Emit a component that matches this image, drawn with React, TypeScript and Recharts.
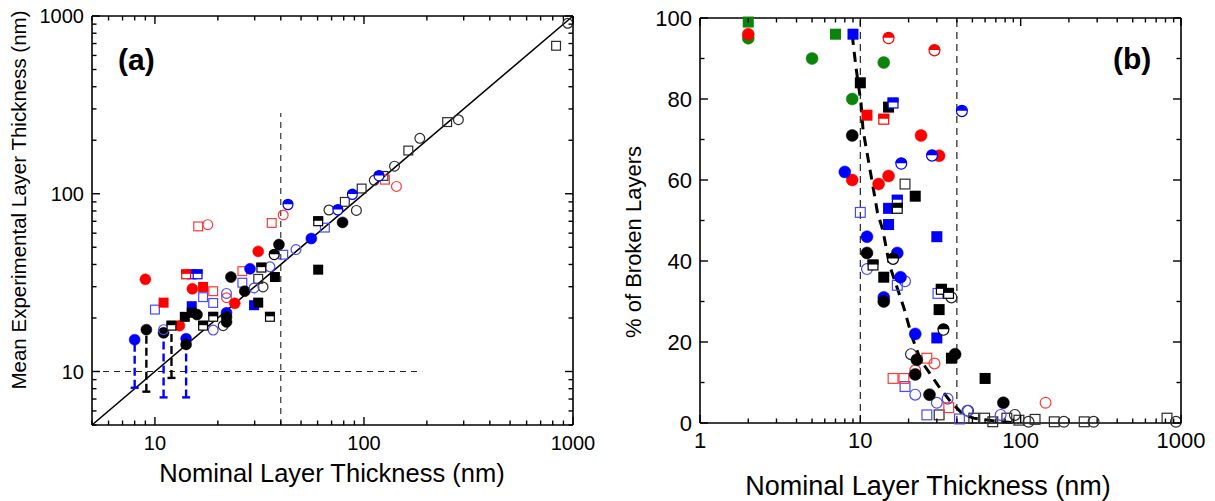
import React from 'react';
import { ScatterChart, Scatter, XAxis, YAxis, ReferenceLine, ErrorBar } from 'recharts';

type P = [number, number];
type E = [number, number, number];

// ---------- Panel (a): mean experimental vs nominal thickness ----------
const aBlackFilledCircle: P[] = [[9.1, 17.2], [11, 16.5], [14.1, 14.2], [15.9, 20.9], [22, 20.3], [22, 19], [23.1, 34], [26.9, 28.3], [39.2, 51.8], [79, 69]];
const aBlackHalfCircle: P[] = [[37.2, 45.4]];
const aBlackFilledSquare: P[] = [[13.9, 20.3], [15, 21.4], [31.2, 24.4], [37.5, 34], [60.4, 37.4]];
const aBlackHalfSquare: P[] = [[12, 18.1], [17, 18.1], [19, 20.3], [32.3, 38.4], [35.5, 20.3], [60.4, 70]];
const aBlackOpenSquare: P[] = [[31.2, 33.2], [81, 90], [97.5, 107], [124, 126], [163, 175], [250, 253], [830, 680]];
const aBlackOpenCircle: P[] = [[21.2, 18.1], [32.9, 29.9], [68, 81], [92, 80.6], [112, 119], [140, 143], [185, 205], [283, 261], [944, 910]];
const aBlueFilledCircle: P[] = [[8, 15.1], [14.1, 15.3], [22, 21.4], [28.5, 37.8], [56, 56]];
const aBlueHalfCircle: P[] = [[43.3, 86.7], [75, 81], [88, 99], [118, 126]];
const aBlueFilledSquare: P[] = [[15, 23.3], [29.8, 23.6]];
const aBlueHalfSquare: P[] = [[15, 35.2], [16, 35.2]];
const aBlueOpenSquare: P[] = [[10, 22.3], [17, 26.2], [19, 24.3], [26.2, 31.6], [41.1, 45.4], [65, 64.5]];
const aBlueOpenCircle: P[] = [[11, 17.2], [19, 17.1], [22, 27.5], [29.8, 29.5], [35.5, 38.8], [47.3, 48.5]];
const aRedFilledCircle: P[] = [[9, 33], [13.1, 18.1], [15.1, 29.2], [24.1, 24.2], [31.2, 47.4]];
const aRedFilledSquare: P[] = [[11, 24.4], [17, 29.9]];
const aRedHalfSquare: P[] = [[14.1, 35.2]];
const aRedOpenSquare: P[] = [[16.1, 65.5], [19, 28.3], [26.2, 36.7], [36.2, 68.5], [126, 120]];
const aRedOpenCircle: P[] = [[17.9, 67], [22, 26], [41.1, 76], [143, 110]];
// error bars: [x, y, lower end]
const aErrBlue: E[] = [[8, 15.1, 8.1], [11, 17.2, 7.15], [14.1, 15.3, 7.15]];
const aErrBlack: E[] = [[9.1, 17.2, 7.7], [12, 18.1, 9.2]];
const aDiagonal: P[] = [[5, 5], [1000, 1000]];
const aVLine: P[] = [[40, 5], [40, 285]];
const aHLine: P[] = [[5, 10], [190, 10]];
const aTicks = [5, 6, 7, 8, 9, 10, 20, 30, 40, 50, 60, 70, 80, 90, 100, 200, 300, 400, 500, 600, 700, 800, 900, 1000];
const aMajors = [10, 100, 1000];

// ---------- Panel (b): % of broken layers ----------
const bGreenFilledCircle: P[] = [[2, 95], [5, 90], [14, 89], [8.9, 80]];
const bGreenFilledSquare: P[] = [[2, 99], [7, 96]];
const bRedFilledCircle: P[] = [[2, 96], [8.9, 60], [13, 59], [15, 61], [23.9, 71], [31, 66]];
const bRedHalfCircle: P[] = [[15, 95], [29, 92]];
const bRedFilledSquare: P[] = [[11, 76]];
const bRedHalfSquare: P[] = [[14, 75]];
const bRedOpenSquare: P[] = [[16, 11], [18.7, 11], [26, 16], [35.6, 3.8]];
const bRedOpenCircle: P[] = [[22, 13], [29, 14.7], [143, 5]];
const bBlueFilledSquare: P[] = [[9, 96], [15, 53], [15, 49], [30, 46], [30, 21]];
const bBlueHalfSquare: P[] = [[16, 79], [17, 55]];
const bBlueOpenSquare: P[] = [[10, 52], [17, 34], [19, 9], [26, 2], [30.5, 32], [41.5, 1]];
const bBlueFilledCircle: P[] = [[8, 62], [11, 46], [17, 42], [17.8, 36], [14, 31], [22, 22]];
const bBlueHalfCircle: P[] = [[18, 64], [28, 66], [43, 77]];
const bBlueOpenCircle: P[] = [[11, 38], [19, 35], [22, 7], [30, 5], [35, 6], [46.5, 3], [75, 2]];
const bBlackFilledSquare: P[] = [[10, 84], [15, 78], [22, 56], [14, 36], [31, 28], [37, 16], [60, 11]];
const bBlackHalfSquare: P[] = [[17, 53], [12, 39], [32, 33], [35.5, 32]];
const bBlackOpenSquare: P[] = [[19, 59], [31, 2], [51, 1.2], [59.6, 1.2], [67, 0.3], [82, 1.2], [97.5, 0.7], [123, 0.9], [162, 0.3], [249, 0.3], [818, 1.2]];
const bBlackFilledCircle: P[] = [[8.9, 71], [11, 42], [14, 30], [22, 12], [22.5, 15.6], [27, 7], [39, 17], [78, 5]];
const bBlackHalfCircle: P[] = [[16, 40.5], [33, 23]];
const bBlackOpenCircle: P[] = [[20.7, 17], [37, 31], [47, 3], [92, 2], [112, 0.3], [186, 0.3], [285, 0.3], [930, 0.3]];
const bFitX = [8.9, 9.4, 10.1, 10.4, 12.0, 12.8, 13.8, 15.2, 18.6, 21.0, 23.7, 30.9, 36.5, 44, 51, 75, 90];
const bFitY = [95.8, 87.7, 79, 72.3, 58.3, 51.9, 47.7, 39, 28.7, 21.3, 15.6, 9.0, 5.3, 2.0, 1.2, 0.3, 0.1];
const bVLines = [10, 40];
const bXTicks = [1, 2, 3, 4, 5, 6, 7, 8, 9, 10, 20, 30, 40, 50, 60, 70, 80, 90, 100, 200, 300, 400, 500, 600, 700, 800, 900, 1000];
const bXMajors = [1, 10, 100, 1000];
const bYTicks = [0, 10, 20, 30, 40, 50, 60, 70, 80, 90, 100];
const bYMajors = [0, 20, 40, 60, 80, 100];

// ---------- styling ----------
const FONT = '"Liberation Sans", Arial, Helvetica, sans-serif';
const BLACK = '#000000';
const BLUE = '#0000ff';
const RED = '#ff0000';
const GREEN = '#0a850a';
const OPEN_STROKE: Record<string, string> = { [BLACK]: '#2a2a2a', [BLUE]: '#4848ff', [RED]: '#ff3a3a', [GREEN]: GREEN };

type Kind = 'circle' | 'square';
type Fill = 'filled' | 'open' | 'half';

function makeShape(kind: Kind, fill: Fill, color: string, size: number) {
  return (props: any) => {
    const { cx, cy } = props;
    if (cx == null || cy == null || Number.isNaN(cx) || Number.isNaN(cy)) return <g />;
    const h = size / 2;
    if (kind === 'circle') {
      if (fill === 'filled') return <circle cx={cx} cy={cy} r={h} fill={color} stroke={color} strokeWidth={0.5} />;
      if (fill === 'open') return <circle cx={cx} cy={cy} r={h - 0.6} fill="none" stroke={OPEN_STROKE[color]} strokeWidth={1.2} />;
      return (
        <g>
          <circle cx={cx} cy={cy} r={h - 0.6} fill="#fff" stroke={color} strokeWidth={1.2} />
          <path d={`M ${cx - h} ${cy - 0.5} A ${h} ${h} 0 0 1 ${cx + h} ${cy - 0.5} Z`} fill={color} />
        </g>
      );
    }
    if (fill === 'filled') return <rect x={cx - h} y={cy - h} width={size} height={size} fill={color} />;
    if (fill === 'open') return <rect x={cx - h + 0.6} y={cy - h + 0.6} width={size - 1.2} height={size - 1.2} fill="none" stroke={OPEN_STROKE[color]} strokeWidth={1.2} />;
    return (
      <g>
        <rect x={cx - h + 0.6} y={cy - h + 0.6} width={size - 1.2} height={size - 1.2} fill="#fff" stroke={color} strokeWidth={1.2} />
        <rect x={cx - h} y={cy - h} width={size} height={h - 0.5} fill={color} />
      </g>
    );
  };
}

const toXY = (d: P[]) => d.map(([x, y]) => ({ x, y }));
const toErr = (d: E[]) => d.map(([x, y, low]) => ({ x, y, err: [y - low, 0] }));

function xTick(majors: number[], fs: number, labelDy: number, side: 'bottom' | 'top', labels: boolean) {
  return (p: any) => {
    const { x, y, payload } = p;
    const v = payload.value;
    const major = majors.includes(v);
    const len = major ? 8 : 4.5;
    const dir = side === 'bottom' ? -1 : 1;
    return (
      <g>
        <line x1={x} x2={x} y1={y} y2={y + dir * len} stroke="#000" strokeWidth={1.4} />
        {labels && major ? (
          <text x={x} y={y + labelDy} textAnchor="middle" fontSize={fs} fontFamily={FONT} fill="#000">{String(v)}</text>
        ) : null}
      </g>
    );
  };
}

function yTick(majors: number[], fs: number, side: 'left' | 'right', labels: boolean) {
  return (p: any) => {
    const { x, y, payload } = p;
    const v = payload.value;
    const major = majors.includes(v);
    const len = major ? 8 : 4.5;
    const dir = side === 'left' ? 1 : -1;
    return (
      <g>
        <line x1={x} x2={x + dir * len} y1={y} y2={y} stroke="#000" strokeWidth={1.4} />
        {labels && major ? (
          <text x={x - 8} y={y} dy="0.36em" textAnchor="end" fontSize={fs} fontFamily={FONT} fill="#000">{String(v)}</text>
        ) : null}
      </g>
    );
  };
}

const AXIS_LINE = { stroke: '#000', strokeWidth: 1.6 };

const seriesA: { d: P[]; k: Kind; f: Fill; c: string }[] = [
  { d: aBlackOpenSquare, k: 'square', f: 'open', c: BLACK },
  { d: aBlackOpenCircle, k: 'circle', f: 'open', c: BLACK },
  { d: aBlueOpenSquare, k: 'square', f: 'open', c: BLUE },
  { d: aRedOpenSquare, k: 'square', f: 'open', c: RED },
  { d: aRedOpenCircle, k: 'circle', f: 'open', c: RED },
  { d: aBlueFilledSquare, k: 'square', f: 'filled', c: BLUE },
  { d: aBlueFilledCircle, k: 'circle', f: 'filled', c: BLUE },
  { d: aRedFilledCircle, k: 'circle', f: 'filled', c: RED },
  { d: aRedFilledSquare, k: 'square', f: 'filled', c: RED },
  { d: aBlackFilledSquare, k: 'square', f: 'filled', c: BLACK },
  { d: aBlackFilledCircle, k: 'circle', f: 'filled', c: BLACK },
  { d: aBlueOpenCircle, k: 'circle', f: 'open', c: BLUE },
  { d: aBlueHalfCircle, k: 'circle', f: 'half', c: BLUE },
  { d: aBlueHalfSquare, k: 'square', f: 'half', c: BLUE },
  { d: aRedHalfSquare, k: 'square', f: 'half', c: RED },
  { d: aBlackHalfSquare, k: 'square', f: 'half', c: BLACK },
  { d: aBlackHalfCircle, k: 'circle', f: 'half', c: BLACK },
];

const seriesB: { d: P[]; k: Kind; f: Fill; c: string }[] = [
  { d: bBlackOpenSquare, k: 'square', f: 'open', c: BLACK },
  { d: bBlackOpenCircle, k: 'circle', f: 'open', c: BLACK },
  { d: bBlueOpenSquare, k: 'square', f: 'open', c: BLUE },
  { d: bBlueOpenCircle, k: 'circle', f: 'open', c: BLUE },
  { d: bRedOpenSquare, k: 'square', f: 'open', c: RED },
  { d: bRedOpenCircle, k: 'circle', f: 'open', c: RED },
  { d: bGreenFilledCircle, k: 'circle', f: 'filled', c: GREEN },
  { d: bGreenFilledSquare, k: 'square', f: 'filled', c: GREEN },
  { d: bRedFilledCircle, k: 'circle', f: 'filled', c: RED },
  { d: bRedFilledSquare, k: 'square', f: 'filled', c: RED },
  { d: bBlueFilledCircle, k: 'circle', f: 'filled', c: BLUE },
  { d: bBlueFilledSquare, k: 'square', f: 'filled', c: BLUE },
  { d: bBlackFilledCircle, k: 'circle', f: 'filled', c: BLACK },
  { d: bBlackFilledSquare, k: 'square', f: 'filled', c: BLACK },
  { d: bRedHalfCircle, k: 'circle', f: 'half', c: RED },
  { d: bRedHalfSquare, k: 'square', f: 'half', c: RED },
  { d: bBlueHalfCircle, k: 'circle', f: 'half', c: BLUE },
  { d: bBlueHalfSquare, k: 'square', f: 'half', c: BLUE },
  { d: bBlackHalfSquare, k: 'square', f: 'half', c: BLACK },
  { d: bBlackHalfCircle, k: 'circle', f: 'half', c: BLACK },
];

const empty = () => <g />;

// Axis boxes are 1px thick; margins are chosen so the plot area matches the reference.
function PanelA() {
  return (
    <ScatterChart width={610} height={501} margin={{ top: 15, right: 36, bottom: 75, left: 91 }}>
      <XAxis dataKey="x" type="number" scale="log" domain={[5, 1000]} ticks={aTicks} interval={0} height={1}
        tickSize={0} tickMargin={0} tickLine={false} axisLine={AXIS_LINE} tick={xTick(aMajors, 20, 25, 'bottom', true)} />
      <XAxis xAxisId="top" orientation="top" dataKey="x" type="number" scale="log" domain={[5, 1000]} ticks={aTicks} interval={0} height={1}
        tickSize={0} tickMargin={0} tickLine={false} axisLine={AXIS_LINE} tick={xTick(aMajors, 20, 0, 'top', false)} />
      <YAxis dataKey="y" type="number" scale="log" domain={[5, 1000]} ticks={aTicks} interval={0} width={1}
        tickSize={0} tickMargin={0} tickLine={false} axisLine={AXIS_LINE} tick={yTick(aMajors, 20, 'left', true)} />
      <YAxis yAxisId="right" orientation="right" dataKey="y" type="number" scale="log" domain={[5, 1000]} ticks={aTicks} interval={0} width={1}
        tickSize={0} tickMargin={0} tickLine={false} axisLine={AXIS_LINE} tick={yTick(aMajors, 20, 'right', false)} />
      <Scatter xAxisId="top" yAxisId="right" data={toXY(aBlackOpenCircle)} shape={empty} isAnimationActive={false} />
      <ReferenceLine segment={aVLine.map(([x, y]) => ({ x, y }))} stroke="#222" strokeWidth={1.1} strokeDasharray="6 5" />
      <ReferenceLine segment={aHLine.map(([x, y]) => ({ x, y }))} stroke="#222" strokeWidth={1.1} strokeDasharray="6 5" />
      <ReferenceLine segment={aDiagonal.map(([x, y]) => ({ x, y }))} stroke="#000" strokeWidth={1.6} />
      <Scatter data={toErr(aErrBlue)} shape={empty} isAnimationActive={false}>
        <ErrorBar dataKey="err" direction="y" width={4} stroke={BLUE} strokeWidth={2.4} strokeDasharray="8 4" isAnimationActive={false} />
      </Scatter>
      <Scatter data={toErr(aErrBlack)} shape={empty} isAnimationActive={false}>
        <ErrorBar dataKey="err" direction="y" width={4} stroke={BLACK} strokeWidth={2.4} strokeDasharray="8 4" isAnimationActive={false} />
      </Scatter>
      {seriesA.map((s, i) => (
        <Scatter key={i} data={toXY(s.d)} shape={makeShape(s.k, s.f, s.c, s.k === 'circle' ? 11 : 10)} isAnimationActive={false} />
      ))}
    </ScatterChart>
  );
}

function PanelB() {
  const fit = bFitX.map((x, i) => ({ x, y: bFitY[i] }));
  return (
    <ScatterChart width={605} height={501} margin={{ top: 17, right: 33, bottom: 77, left: 89 }}>
      <XAxis dataKey="x" type="number" scale="log" domain={[1, 1000]} ticks={bXTicks} interval={0} height={1}
        tickSize={0} tickMargin={0} tickLine={false} axisLine={AXIS_LINE} tick={xTick(bXMajors, 22, 25, 'bottom', true)} />
      <XAxis xAxisId="top" orientation="top" dataKey="x" type="number" scale="log" domain={[1, 1000]} ticks={bXTicks} interval={0} height={1}
        tickSize={0} tickMargin={0} tickLine={false} axisLine={AXIS_LINE} tick={xTick(bXMajors, 22, 0, 'top', false)} />
      <YAxis dataKey="y" type="number" domain={[0, 100]} ticks={bYTicks} interval={0} width={1}
        tickSize={0} tickMargin={0} tickLine={false} axisLine={AXIS_LINE} tick={yTick(bYMajors, 22, 'left', true)} />
      <YAxis yAxisId="right" orientation="right" dataKey="y" type="number" domain={[0, 100]} ticks={bYTicks} interval={0} width={1}
        tickSize={0} tickMargin={0} tickLine={false} axisLine={AXIS_LINE} tick={yTick(bYMajors, 22, 'right', false)} />
      <Scatter xAxisId="top" yAxisId="right" data={toXY(bBlackOpenCircle)} shape={empty} isAnimationActive={false} />
      {bVLines.map((v) => (
        <ReferenceLine key={v} x={v} stroke="#222" strokeWidth={1.2} strokeDasharray="7 5" />
      ))}
      <Scatter data={fit} shape={empty} line={{ stroke: '#000', strokeWidth: 3, strokeDasharray: '10 7' }} lineType="joint" isAnimationActive={false} />
      {seriesB.map((s, i) => (
        <Scatter key={i} data={toXY(s.d)} shape={makeShape(s.k, s.f, s.c, s.k === 'circle' ? 12 : 11)} isAnimationActive={false} />
      ))}
    </ScatterChart>
  );
}

export default function App() {
  return (
    <div style={{ position: 'absolute', left: 0, top: 0, width: 1215, height: 501, background: '#fff', overflow: 'hidden' }}>
      <div style={{ position: 'absolute', left: 0, top: 0 }}>
        <PanelA />
      </div>
      <div style={{ position: 'absolute', left: 610, top: 0 }}>
        <PanelB />
      </div>
      <svg width={1215} height={501} style={{ position: 'absolute', left: 0, top: 0, pointerEvents: 'none' }}>
        <text x={118} y={70} fontSize={30} fontWeight="bold" fontFamily={FONT} fill="#000">(a)</text>
        <text x={1113} y={69} fontSize={30} fontWeight="bold" fontFamily={FONT} fill="#000">(b)</text>
        <text x={332} y={482} textAnchor="middle" fontSize={25.5} fontFamily={FONT} fill="#000">Nominal Layer Thickness (nm)</text>
        <text x={928} y={495} textAnchor="middle" fontSize={27} fontFamily={FONT} fill="#000">Nominal Layer Thickness (nm)</text>
        <text x={26} y={200} textAnchor="middle" fontSize={20.5} fontFamily={FONT} fill="#000" transform="rotate(-90 26 200)">Mean Experimental Layer Thickness (nm)</text>
        <text x={641} y={242} textAnchor="middle" fontSize={22} fontFamily={FONT} fill="#000" transform="rotate(-90 641 242)">% of Broken Layers</text>
      </svg>
    </div>
  );
}
